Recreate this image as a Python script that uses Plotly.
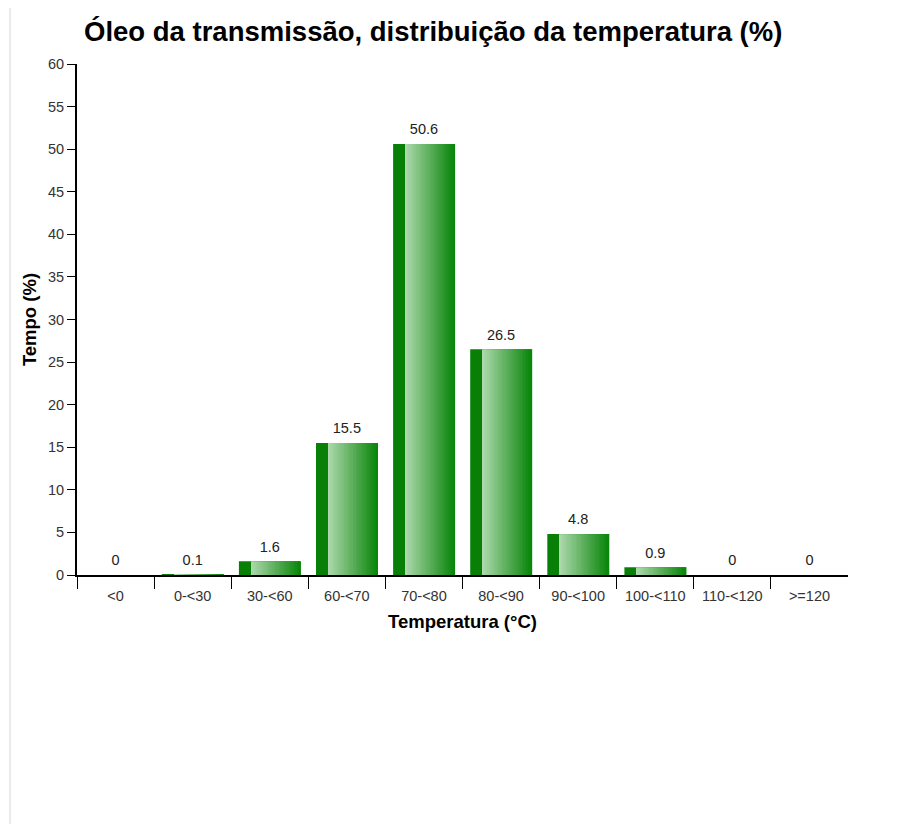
import plotly.graph_objects as go

categories = ["<0", "0-<30", "30-<60", "60-<70", "70-<80", "80-<90", "90-<100", "100-<110", "110-<120", ">=120"]
values = [0, 0.1, 1.6, 15.5, 50.6, 26.5, 4.8, 0.9, 0, 0]
labels = ["0", "0.1", "1.6", "15.5", "50.6", "26.5", "4.8", "0.9", "0", "0"]

FONT = "Liberation Sans, Arial, sans-serif"
xs = list(range(len(categories)))
BAR_W = 0.8

fig = go.Figure()
# base bar (dark green)
fig.add_trace(go.Bar(x=xs, y=values, width=BAR_W, marker=dict(color="rgb(8,128,8)", line=dict(width=0)),
                     hoverinfo="skip", showlegend=False))
# gradient strips from light to dark across the bar
light = (172, 216, 172)
dark = (10, 134, 10)
n = 30
start = 0.2
for k in range(n):
    a0 = start + (1 - start) * k / n
    a1 = start + (1 - start) * (k + 1) / n
    t = k / (n - 1)
    c = tuple(round(light[i] + (dark[i] - light[i]) * t) for i in range(3))
    fig.add_trace(go.Bar(x=xs, y=values, width=BAR_W * (a1 - a0) + 0.004, offset=-BAR_W / 2 + BAR_W * a0,
                         marker=dict(color="rgb(%d,%d,%d)" % c, line=dict(width=0)),
                         hoverinfo="skip", showlegend=False))
# value labels
fig.add_trace(go.Scatter(x=xs, y=values, mode="markers+text", text=labels, textposition="top center",
                         marker=dict(size=8, opacity=0),
                         textfont=dict(family=FONT, size=14.5, color="#222"), hoverinfo="skip", showlegend=False))

fig.update_layout(
    width=909, height=824,
    barmode="overlay",
    paper_bgcolor="white", plot_bgcolor="white",
    margin=dict(l=69, r=69, t=56, b=257),
    font=dict(family=FONT, size=14.5, color="#333"),
    title=dict(text="<b>Óleo da transmissão, distribuição da temperatura (%)</b>",
               font=dict(family=FONT, size=27.5, color="#000"),
               x=76 / 909, xanchor="left", xref="container", y=1 - 23 / 824, yanchor="middle", yref="container"),
    xaxis=dict(range=[-0.5, 9.5], tickmode="array", tickvals=xs, ticktext=categories, ticks="",
               showline=True, linecolor="#000", linewidth=2, showgrid=False, zeroline=False,
               tickfont=dict(size=14.5, color="#333"), ticklabelstandoff=7,
               minor=dict(tickmode="array", tickvals=[i - 0.5 for i in xs], ticks="outside", ticklen=12,
                          tickwidth=1, tickcolor="#000", showgrid=False),
               title=dict(text="<b>Temperatura (°C)</b>", font=dict(family=FONT, size=18.5, color="#000"), standoff=12)),
    yaxis=dict(range=[0, 60], tickmode="linear", dtick=5, ticks="outside", ticklen=8, tickwidth=1, tickcolor="#000",
               showline=True, linecolor="#000", linewidth=2, showgrid=False, zeroline=False,
               tickfont=dict(size=14.5, color="#333"),
               title=dict(text="<b>Tempo (%)</b>", font=dict(family=FONT, size=18.5, color="#000"), standoff=6)),
    shapes=[dict(type="line", xref="paper", yref="paper", x0=-67 / 771, x1=-67 / 771, y0=-265 / 511, y1=1 + 70 / 511,
                 line=dict(color="#d8d8d8", width=1))],
)

fig.write_html("out.html")
